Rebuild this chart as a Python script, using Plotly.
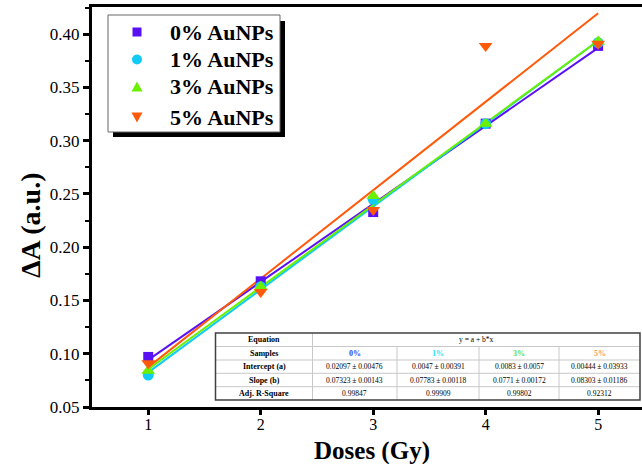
import plotly.graph_objects as go

# ---------------- data ----------------
doses = [1, 2, 3, 4, 5]
samples = ["0%", "1%", "3%", "5%"]
series_names = ["0% AuNPs", "1% AuNPs", "3% AuNPs", "5% AuNPs"]
dA_0 = [0.097, 0.168, 0.233, 0.316, 0.389]
dA_1 = [0.080, 0.163, 0.245, 0.316, 0.392]
dA_3 = [0.084, 0.163, 0.248, 0.316, 0.393]
dA_5 = [0.091, 0.158, 0.235, 0.389, 0.391]
intercepts = [0.02097, 0.0047, 0.0083, 0.00444]
intercept_err = [0.00476, 0.00391, 0.0057, 0.03933]
slopes = [0.07323, 0.07783, 0.0771, 0.08303]
slope_err = [0.00143, 0.00118, 0.00172, 0.01186]
adj_r2 = [0.99847, 0.99909, 0.99802, 0.92312]
row_labels = ["Equation", "Samples", "Intercept (a)", "Slope (b)", "Adj. R-Square"]
equation = "y = a + b*x"
y_ticks = [0.05, 0.10, 0.15, 0.20, 0.25, 0.30, 0.35, 0.40]

# ---------------- style ----------------
colors = ["#5A10F5", "#10CCF5", "#6AF000", "#FF5A0A"]
head_colors = ["#3344FF", "#22E5F5", "#55E040", "#FF9955"]
symbols = ["square", "circle", "triangle-up", "triangle-down"]
msizes = [10, 11, 12, 12]
FONT = "Liberation Serif"

W, H = 642, 464
L, R, T, B = 92, 0, 7, 57
PW, PH = W - L - R, H - T - B


def px(x):
    return (x - L) / PW


def py(y):
    return (H - B - y) / PH


fig = go.Figure()
all_series = [dA_0, dA_1, dA_3, dA_5]

# fit lines
for i, s in enumerate(all_series):
    xs = [doses[0], doses[-1]]
    ys = [intercepts[i] + slopes[i] * x for x in xs]
    fig.add_trace(go.Scatter(x=xs, y=ys, mode="lines",
                             line=dict(color=colors[i], width=2),
                             showlegend=False, hoverinfo="skip"))
# points
for i, s in enumerate(all_series):
    fig.add_trace(go.Scatter(x=doses, y=s, mode="markers", name=series_names[i],
                             marker=dict(color=colors[i], symbol=symbols[i], size=msizes[i],
                                         line=dict(width=0))))

shapes = []
annotations = []


def rect(x0, y0, x1, y1, **kw):
    shapes.append(dict(type="rect", xref="paper", yref="paper", layer="above",
                       x0=px(x0), x1=px(x1), y0=py(y1), y1=py(y0), **kw))


def line(x0, y0, x1, y1, color, width):
    shapes.append(dict(type="line", xref="paper", yref="paper", layer="above",
                       x0=px(x0), x1=px(x1), y0=py(y0), y1=py(y1),
                       line=dict(color=color, width=width)))


# ---------------- legend (box, shadow, glyphs, labels) ----------------
LB = [108, 15, 280, 132]
rect(LB[0] + 5, LB[1] + 6, LB[2] + 5, LB[3] + 5, fillcolor="black", line=dict(width=0))
rect(LB[0], LB[1], LB[2], LB[3], fillcolor="white", line=dict(color="#666666", width=1))
LEG_X, LEG_TX = 137, 168
LEG_Y = [32, 59.5, 87, 117]
for i in range(4):
    cx, cy = LEG_X, LEG_Y[i]
    if symbols[i] == "square":
        rect(cx - 4.5, cy - 4.5, cx + 4.5, cy + 4.5, fillcolor=colors[i], line=dict(width=0))
    elif symbols[i] == "circle":
        shapes.append(dict(type="circle", xref="paper", yref="paper", layer="above",
                           x0=px(cx - 5), x1=px(cx + 5), y0=py(cy + 5), y1=py(cy - 5),
                           fillcolor=colors[i], line=dict(width=0)))
    else:
        d = 1 if symbols[i] == "triangle-up" else -1
        pts = [(cx - 5.5, cy + 4.5 * d), (cx + 5.5, cy + 4.5 * d), (cx, cy - 5.5 * d)]
        path = "M %f %f L %f %f L %f %f Z" % (px(pts[0][0]), py(pts[0][1]), px(pts[1][0]), py(pts[1][1]),
                                            px(pts[2][0]), py(pts[2][1]))
        shapes.append(dict(type="path", xref="paper", yref="paper", layer="above", path=path,
                           fillcolor=colors[i], line=dict(width=0)))
    annotations.append(dict(x=px(LEG_TX), y=py(cy), xref="paper", yref="paper",
                            text="<b>%s</b>" % series_names[i], showarrow=False,
                            xanchor="left", yanchor="middle",
                            font=dict(family=FONT, size=22, color="black")))

# ---------------- table ----------------
TX = [215.5, 312.5, 397, 479, 559, 640]
TY = [333, 346.5, 360, 373.3, 386.7, 400]
rect(TX[0], TY[0], TX[-1], TY[-1], fillcolor="white", line=dict(width=0))
grid = "#C8C8C8"
for yy in TY[1:-1]:
    line(TX[0], yy, TX[-1], yy, grid, 1)
line(TX[1], TY[0], TX[1], TY[-1], grid, 1)
for xx in TX[2:-1]:
    line(xx, TY[1], xx, TY[-1], grid, 1)
rect(TX[0], TY[0], TX[-1], TY[-1], line=dict(color="#404040", width=1.5))


def cell_text(text, c0, c1, r, size=7.5, bold=False, color="black"):
    cx = (TX[c0] + TX[c1]) / 2
    cy = (TY[r] + TY[r + 1]) / 2
    annotations.append(dict(x=px(cx), y=py(cy), xref="paper", yref="paper",
                            text=("<b>%s</b>" % text) if bold else text,
                            showarrow=False, xanchor="center", yanchor="middle",
                            font=dict(family=FONT, size=size, color=color)))


for r, lab in enumerate(row_labels):
    cell_text(lab, 0, 1, r, size=8, bold=True)
cell_text(equation, 1, 5, 0)
for j in range(4):
    cell_text(samples[j], j + 1, j + 2, 1, size=8, bold=True, color=head_colors[j])
    cell_text("%s \u00b1 %s" % (intercepts[j], intercept_err[j]), j + 1, j + 2, 2)
    cell_text("%s \u00b1 %s" % (slopes[j], slope_err[j]), j + 1, j + 2, 3)
    cell_text("%s" % adj_r2[j], j + 1, j + 2, 4)

# axis titles
annotations.append(dict(x=px(30), y=py(226), xref="paper", yref="paper",
                        text="<b>\u0394A (a.u.)</b>", textangle=-90, showarrow=False,
                        xanchor="center", yanchor="middle",
                        font=dict(family=FONT, size=28, color="black")))
annotations.append(dict(x=px(372), y=py(451), xref="paper", yref="paper",
                        text="<b>Doses (Gy)</b>", showarrow=False,
                        xanchor="center", yanchor="middle", borderpad=0,
                        font=dict(family=FONT, size=25, color="black")))

fig.update_layout(
    width=W, height=H,
    margin=dict(l=L, r=R, t=T, b=B, pad=0),
    paper_bgcolor="white", plot_bgcolor="white",
    font=dict(family=FONT, color="black"),
    showlegend=False,
    shapes=shapes, annotations=annotations,
    xaxis=dict(range=[0.5, 5.39], tickvals=doses, ticks="outside", ticklen=5, tickwidth=3,
               tickcolor="black", showline=True, linewidth=3, linecolor="black", mirror=True,
               showgrid=False, zeroline=False, ticklabelstandoff=-4,
               tickfont=dict(family=FONT, size=16, color="black")),
    yaxis=dict(range=[0.05, 0.4255], tickvals=y_ticks, ticktext=["%.2f" % v for v in y_ticks],
               ticks="outside", ticklen=6, tickwidth=3,
               tickcolor="black", showline=True, linewidth=3, linecolor="black", mirror=False,
               showgrid=False, zeroline=False,
               minor=dict(dtick=0.025, tick0=0.05, ticks="outside", ticklen=4, tickwidth=2,
                          tickcolor="black", showgrid=False),
               tickfont=dict(family=FONT, size=17, color="black")),
)

fig.write_html("out.html", config={"displayModeBar": False},
               post_script="document.body.style.margin='0';")
